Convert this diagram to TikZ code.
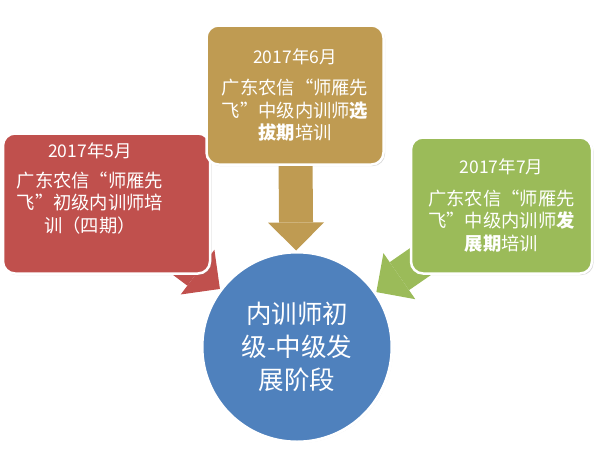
\documentclass[tikz,border=0pt]{standalone}
\usepackage{fontspec}
\setmainfont{Noto Sans CJK SC}
\usepackage{tikz}
\usetikzlibrary{arrows.meta, positioning, shadows, backgrounds}

\definecolor{phaseRed}{HTML}{C0504D}
\definecolor{phaseGold}{HTML}{BF9B52}
\definecolor{phaseGreen}{HTML}{9BBB59}
\definecolor{coreBlue}{HTML}{4F81BD}

\newcommand{\yearfont}{\fontsize{17.5}{22.5}\selectfont}

\begin{document}
\begin{tikzpicture}[
  x=1pt, y=-1pt,
  phase/.style={rectangle, draw=white, line width=2.5pt, rounded corners=12pt, align=center, text=white, font=\fontsize{18.3}{22.5}\selectfont, inner sep=4pt, drop shadow={shadow xshift=1.5pt, shadow yshift=-1.5pt, opacity=0.3}},
  core/.style={circle, draw=white, line width=3pt, fill=coreBlue, minimum size=190pt, align=center, text=white, font=\fontsize{25.5}{33}\selectfont, drop shadow={shadow xshift=1pt, shadow yshift=-1pt, opacity=0.2}},
  flow/.style={line width=34pt, -{Triangle[width=56pt, length=28pt, line width=0pt]}},
]
  \useasboundingbox (0,0) rectangle (594,467);

  % Centre stage
  \node[core] (core) at (297,347) {内训师初\\级-中级发\\展阶段};

  % Training phases (text of the first one sits left of centre)
  \node[phase, fill=phaseRed, minimum width=207pt, minimum height=140pt, text depth=33pt] (may) at (106.5,203.5)
    {\begin{tabular}[b]{@{}c@{\hspace{33pt}}}{\yearfont 2017年5月}\\[7pt]广东农信“师雁先\\飞”初级内训师培\\训（四期）\end{tabular}};
  \node[phase, fill=phaseGold, minimum width=177pt, minimum height=139pt] (june) at (295,95)
    {{\yearfont 2017年6月}\\[9pt]广东农信“师雁先\\飞”中级内训师\textbf{选}\\\textbf{拔期}培训};
  \node[phase, fill=phaseGreen, minimum width=181pt, minimum height=136pt] (july) at (501.5,205.5)
    {{\yearfont 2017年7月}\\[9pt]广东农信“师雁先\\飞”中级内训师\textbf{发}\\\textbf{展期}培训};

  % Arrows into the circle
  \begin{scope}[on background layer]
    \draw[flow, phaseRed] (may.center) -- (core);
    \draw[flow, phaseGold] (june.center) -- (core);
    \draw[flow, phaseGreen] (july.center) -- (core);
  \end{scope}
\end{tikzpicture}
\end{document}
